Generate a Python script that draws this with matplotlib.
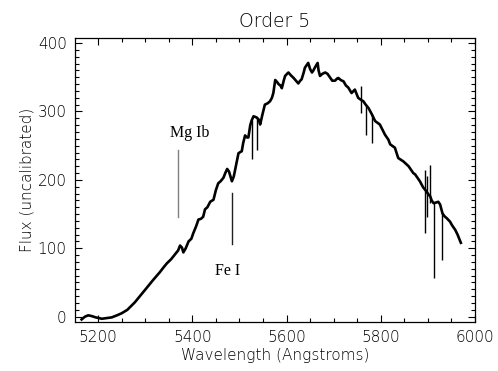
import matplotlib
matplotlib.use("Agg")
import matplotlib.pyplot as plt
from matplotlib.ticker import MultipleLocator

# Continuum of the spectrum (Angstroms, uncalibrated flux)
wavelength = [
    5165, 5172, 5179, 5186, 5195, 5208, 5218, 5229, 5240, 5250,
    5262, 5278, 5290, 5303, 5316, 5331, 5340, 5346, 5355, 5363,
    5370, 5374, 5378, 5381, 5386, 5392, 5398, 5402, 5408, 5413,
    5418, 5423, 5427, 5432, 5438, 5445, 5450, 5455, 5460, 5466,
    5470, 5474, 5478, 5484, 5488, 5491, 5495, 5498, 5505, 5508,
    5512, 5516, 5519, 5523, 5526, 5530, 5534, 5537, 5541, 5544,
    5549, 5554, 5560, 5565, 5569, 5572, 5576, 5580, 5583, 5587,
    5590, 5594, 5597, 5601, 5604, 5609, 5615, 5620, 5625, 5629,
    5632, 5636, 5639, 5643, 5646, 5650, 5654, 5657, 5660, 5666,
    5668, 5671, 5676, 5682, 5687, 5692, 5697, 5703, 5707, 5710,
    5715, 5721, 5726, 5731, 5738, 5745, 5752, 5758, 5763, 5768,
    5774, 5781, 5788, 5798, 5809, 5816, 5820, 5830, 5837, 5848,
    5859, 5869, 5873, 5883, 5890, 5896, 5902, 5905, 5908, 5912,
    5918, 5922, 5926, 5931, 5935, 5940, 5947, 5951, 5958, 5963,
    5970,
]
flux = [
    -4, 0, 2, 1, -1, -3, -2, -1, 2, 5,
    10, 21, 31, 42, 53, 65, 73, 78, 84, 91,
    97, 104, 101, 94, 100, 110, 114, 122, 132, 142,
    143, 146, 157, 160, 168, 171, 185, 195, 198, 203,
    210, 216, 212, 198, 205, 215, 228, 239, 242, 254,
    265, 262, 262, 280, 287, 293, 292, 291, 288, 281,
    296, 310, 312, 315, 320, 327, 346, 343, 340, 338,
    334, 345, 352, 355, 357, 353, 349, 345, 341, 345,
    347, 356, 364, 368, 371, 362, 357, 360, 364, 371,
    360, 352, 355, 357, 355, 350, 345, 345, 348, 349,
    346, 344, 338, 335, 327, 332, 320, 317, 315, 310,
    305, 296, 286, 281, 266, 259, 252, 247, 232, 227,
    220, 210, 208, 198, 189, 184, 178, 176, 170, 166,
    167, 168, 164, 151, 147, 144, 139, 134, 127, 120,
    108,
]

# Narrow absorption / emission features drawn as thin strokes
line_wave = [5526, 5537.5, 5758, 5768, 5781, 5893, 5899, 5904, 5912.5, 5931]
line_top = [287, 290, 337, 310, 296, 215, 205, 222, 167, 151]
line_bottom = [230, 244, 298, 266, 254, 122, 146, 166, 56, 83]

# Line identification markers
marker_labels = ["Mg Ib", "Fe I"]
marker_wave = [5370, 5484]
marker_low = [146, 106]
marker_high = [244, 181]
marker_colors = ["#808080", "#202020"]
label_wave = [5395, 5475]
label_flux = [263, 61]

fig = plt.figure(figsize=(4.98, 3.71), dpi=100)
ax = fig.add_axes([0.1506, 0.1329, 0.8032, 0.7639])

ax.plot(wavelength, flux, color="black", lw=1.9, solid_joinstyle="round")
ax.vlines(line_wave, line_bottom, line_top, color="black", lw=1.0)

for w, lo, hi, c in zip(marker_wave, marker_low, marker_high, marker_colors):
    ax.plot([w, w], [lo, hi], color=c, lw=1.0)
for lab, w, f in zip(marker_labels, label_wave, label_flux):
    ax.text(w, f, lab, family="Liberation Serif", fontsize=11.5,
            ha="center", va="baseline", color="black")

ax.set_xlim(5151, 6000)
ax.set_ylim(-7.3, 407)
ax.xaxis.set_major_locator(MultipleLocator(200))
ax.xaxis.set_minor_locator(MultipleLocator(50))
ax.yaxis.set_major_locator(MultipleLocator(100))
ax.yaxis.set_minor_locator(MultipleLocator(10))
ax.tick_params(which="both", direction="in", top=True, right=True,
               labelsize=11, width=0.8, pad=6, labelcolor="black")
ax.tick_params(which="major", length=5)
ax.tick_params(which="minor", length=3)
for s in ax.spines.values():
    s.set_linewidth(0.9)
for lab in ax.get_xticklabels() + ax.get_yticklabels():
    lab.set_fontweight("light")

ax.set_title("Order 5", fontsize=13.5, pad=8, fontweight="light", color="black")
ax.set_xlabel("Wavelength (Angstroms)", fontsize=11, labelpad=2,
              fontweight="light", color="black")
ax.set_ylabel("Flux (uncalibrated)", fontsize=11, labelpad=2,
              fontweight="light", color="black")

fig.savefig("out.png", dpi=100)
